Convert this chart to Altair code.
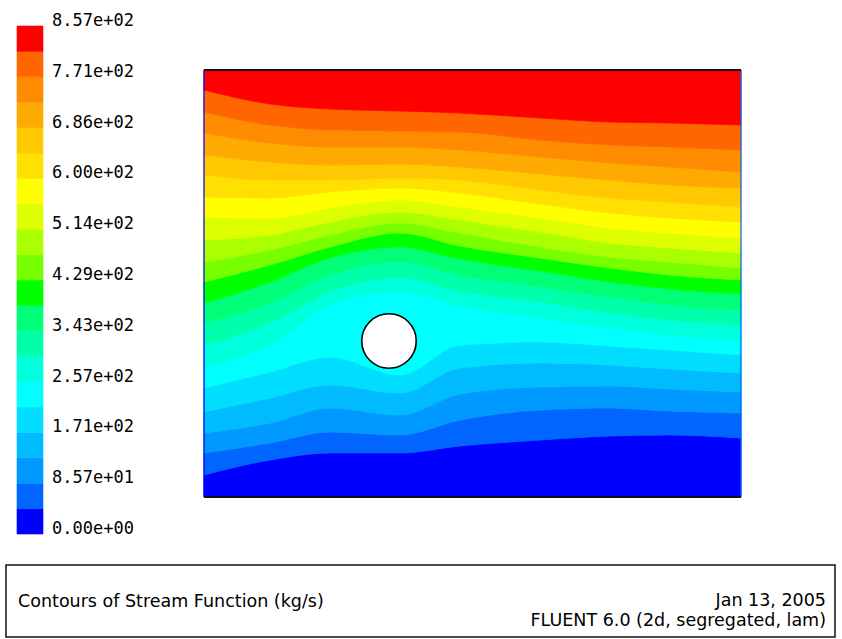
import altair as alt
import pandas as pd

# ---------------- data ----------------
# computational domain (mm)
domain_w = 537
domain_h = 427

# x stations where the iso-stream-function lines were read (mm from inlet)
x_samples = [0, 66, 126, 196, 256, 336, 406, 466, 537]

# height (mm from bottom wall) of each contour level line, lowest level first
iso_lines = [
    [22, 37, 44, 44, 51, 57, 61, 62, 59],          # 4.29e+01
    [44, 54, 65, 62, 77, 87, 89, 86, 84],          # 8.57e+01
    [64, 74, 89, 82, 103, 110, 111, 108, 105],     # 1.29e+02
    [85, 99, 112, 104, 129, 134, 132, 128, 124],   # 1.71e+02
    [109, 125, 140, 122, 152, 155, 151, 147, 142], # 2.14e+02
    [130, 152, 192, 205, 191, 179, 169, 162, 157], # 2.57e+02
    [152, 174, 205, 219, 206, 195, 184, 177, 172], # 3.00e+02
    [174, 194, 222, 235, 222, 210, 200, 192, 187], # 3.43e+02
    [194, 215, 239, 250, 238, 226, 215, 208, 203], # 3.86e+02
    [215, 232, 250, 264, 251, 239, 229, 222, 217], # 4.29e+02
    [235, 247, 262, 274, 264, 250, 240, 235, 229], # 4.71e+02
    [257, 262, 275, 285, 277, 265, 254, 249, 244], # 5.14e+02
    [280, 279, 289, 297, 290, 279, 269, 264, 259], # 5.57e+02
    [300, 299, 305, 309, 304, 293, 284, 279, 275], # 6.00e+02
    [322, 317, 317, 319, 317, 307, 299, 295, 290], # 6.43e+02
    [342, 335, 332, 333, 330, 323, 317, 312, 309], # 6.86e+02
    [364, 354, 350, 350, 347, 340, 334, 330, 325], # 7.28e+02
    [385, 372, 367, 366, 365, 357, 352, 350, 347], # 7.71e+02
    [407, 393, 388, 386, 384, 379, 375, 374, 372], # 8.14e+02
]

# stream-function levels (kg/s) bounding the 20 colour bands
levels = [0.0, 42.85, 85.7, 128.55, 171.4, 214.25, 257.1, 299.95, 342.8, 385.65,
          428.5, 471.35, 514.2, 557.05, 599.9, 642.75, 685.6, 728.45, 771.3,
          814.15, 857.0]

band_colors = ["#0000ff", "#0066ff", "#0099ff", "#00bbff", "#00ddff",
               "#00ffff", "#00ffdd", "#00ffaa", "#00ff77", "#00ff00",
               "#77ff00", "#aaff00", "#ddff00", "#ffff00", "#ffe000",
               "#ffc800", "#ffaa00", "#ff8c00", "#ff6600", "#ff0000"]

tick_values = [0.0, 85.7, 171.4, 257.1, 342.8, 428.5, 514.2, 599.9, 685.6, 771.3, 857.0]
tick_labels = ["0.00e+00", "8.57e+01", "1.71e+02", "2.57e+02", "3.43e+02",
               "4.29e+02", "5.14e+02", "6.00e+02", "6.86e+02", "7.71e+02", "8.57e+02"]

# cylinder (mm)
cyl_x = [185]
cyl_y = [156]

caption_left = "Contours of Stream Function (kg/s)"
caption_date = "Jan 13, 2005"
caption_solver = "FLUENT 6.0 (2d, segregated, lam)"

# ---------------- tables ----------------
n_bands = len(band_colors)
rows = []
for k in range(n_bands):
    lo = [0] * len(x_samples) if k == 0 else iso_lines[k - 1]
    hi = [domain_h] * len(x_samples) if k == n_bands - 1 else iso_lines[k]
    for xv, l, h in zip(x_samples, lo, hi):
        rows.append({"x": xv, "lo": l, "hi": h, "band": k})
field = pd.DataFrame(rows)

cbar = pd.DataFrame({"lo": levels[:-1], "hi": levels[1:], "band": list(range(n_bands))})
ticks = pd.DataFrame({"v": tick_values, "label": tick_labels})
cyl = pd.DataFrame({"x": cyl_x, "y": cyl_y})
walls = pd.DataFrame({"x": [0, 0], "x2": [domain_w, domain_w], "y": [0, domain_h]})
ends = pd.DataFrame({"x": [0, domain_w], "y": [0, 0], "y2": [domain_h, domain_h],
                     "side": ["inlet", "outlet"]})

# ---------------- scales ----------------
xs = alt.Scale(domain=[0, domain_w], range=[204, 741], nice=False, zero=False)
ys = alt.Scale(domain=[0, domain_h], range=[497, 70], nice=False, zero=False)
cs = alt.Scale(domain=[0, 857.0], range=[534, 26], nice=False, zero=False)
col = alt.Scale(domain=list(range(n_bands)), range=band_colors)

contour = alt.Chart(field).mark_area(interpolate="monotone", strokeWidth=0.8).encode(
    x=alt.X("x:Q", scale=xs, axis=None),
    y=alt.Y("lo:Q", scale=ys, axis=None, stack=None),
    y2="hi:Q",
    color=alt.Color("band:O", scale=col, legend=None),
    stroke=alt.Stroke("band:O", scale=col, legend=None),
    detail="band:O",
)

ends_layer = alt.Chart(ends).mark_rule(strokeWidth=1.2).encode(
    x=alt.X("x:Q", scale=xs, axis=None),
    y=alt.Y("y:Q", scale=ys, axis=None),
    y2="y2:Q",
    color=alt.Color("side:N", scale=alt.Scale(domain=["inlet", "outlet"],
                                                range=["#8c8cff", "#ff2020"]), legend=None),
)

walls_layer = alt.Chart(walls).mark_rule(strokeWidth=2, color="#111111").encode(
    x=alt.X("x:Q", scale=xs, axis=None),
    x2="x2:Q",
    y=alt.Y("y:Q", scale=ys, axis=None),
)

cyl_layer = alt.Chart(cyl).mark_point(shape="circle", filled=True, fill="white",
                                      stroke="black", strokeWidth=1.6, opacity=1,
                                      size=2970).encode(
    x=alt.X("x:Q", scale=xs, axis=None),
    y=alt.Y("y:Q", scale=ys, axis=None),
)

cbar_layer = alt.Chart(cbar).mark_rect(strokeWidth=0.6).encode(
    x=alt.value(17), x2=alt.value(43),
    y=alt.Y("lo:Q", scale=cs, axis=None), y2="hi:Q",
    color=alt.Color("band:O", scale=col, legend=None),
    stroke=alt.Stroke("band:O", scale=col, legend=None),
)

tick_layer = alt.Chart(ticks).mark_text(align="left", baseline="alphabetic",
                                        font="DejaVu Sans Mono", fontSize=17,
                                        color="black").encode(
    x=alt.value(52),
    y=alt.Y("v:Q", scale=cs, axis=None),
    text="label:N",
)

box = alt.Chart(pd.DataFrame({"k": [0]})).mark_rect(filled=False, stroke="#111111",
                                                    strokeWidth=1.5).encode(
    x=alt.value(6), x2=alt.value(835), y=alt.value(565), y2=alt.value(637))

txt_left = alt.Chart(pd.DataFrame({"t": [caption_left]})).mark_text(
    align="left", baseline="alphabetic", font="DejaVu Sans", fontSize=17.5, color="black"
).encode(x=alt.value(18), y=alt.value(607), text="t:N")

txt_date = alt.Chart(pd.DataFrame({"t": [caption_date]})).mark_text(
    align="right", baseline="alphabetic", font="DejaVu Sans", fontSize=17.5, color="black"
).encode(x=alt.value(826), y=alt.value(606), text="t:N")

txt_solver = alt.Chart(pd.DataFrame({"t": [caption_solver]})).mark_text(
    align="right", baseline="alphabetic", font="DejaVu Sans", fontSize=17.5, color="black"
).encode(x=alt.value(826), y=alt.value(626), text="t:N")

chart = alt.layer(
    contour, ends_layer, walls_layer, cyl_layer, cbar_layer, tick_layer,
    box, txt_left, txt_date, txt_solver
).resolve_scale(
    x="independent", y="independent"
).properties(
    width=842, height=639, padding=0,
    autosize=alt.AutoSizeParams(type="none"),
    background="white",
).configure_view(stroke=None)

chart.save("out.html", embed_options={"renderer": "svg", "actions": False})
